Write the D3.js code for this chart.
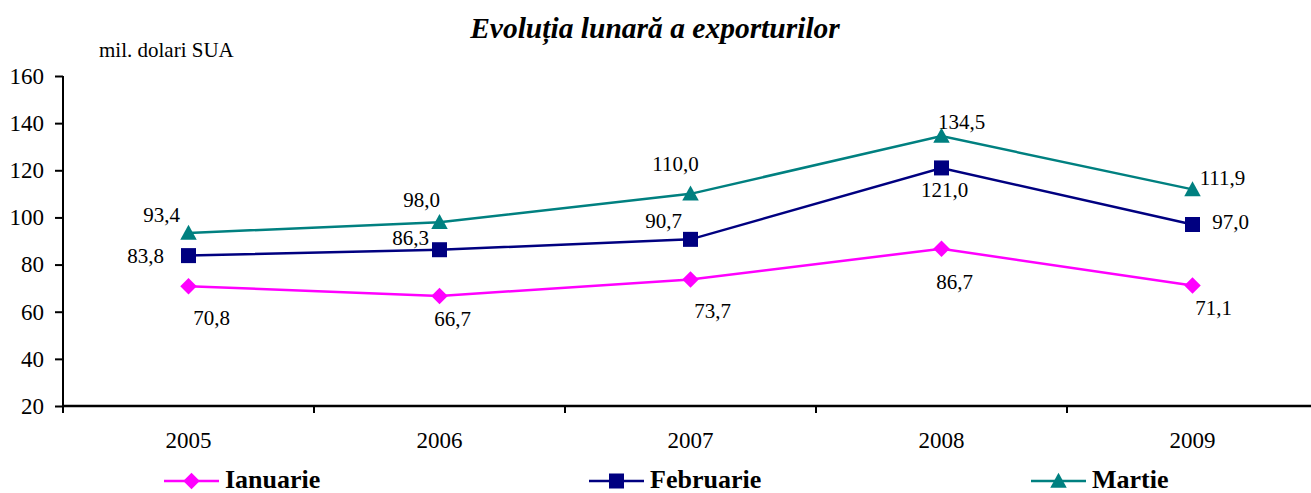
<!DOCTYPE html>
<html><head><meta charset="utf-8">
<script src="https://cdn.jsdelivr.net/npm/d3@7"></script>
<style>body{margin:0;background:#fff;}svg{display:block;}</style>
</head><body><svg id="c" width="1311" height="493"></svg>
<script>
const years = ["2005","2006","2007","2008","2009"];
const seriesNames = ["Ianuarie","Februarie","Martie"];
const ianuarie = [70.8, 66.7, 73.7, 86.7, 71.1];
const februarie = [83.8, 86.3, 90.7, 121.0, 97.0];
const martie = [93.4, 98.0, 110.0, 134.5, 111.9];
const yTicks = [20,40,60,80,100,120,140,160];
const colors = ["#FF00FF","#000080","#008080"];
// label offsets (dx, dy) per series/point - styling only
const labelOffsets = [
  [[23,32],[13,23],[22,32],[13,33],[21,22]],
  [[-43,0],[-29,-12],[-27,-18],[3,22],[38,-3]],
  [[-27,-18],[-18,-22],[-15,-30],[20,-14],[30,-11]]
];
const values = [ianuarie, februarie, martie];
(function(){
const FONT = '"Liberation Serif","Times New Roman",Times,serif';
const svg = d3.select("#c");
const mLeft = 63, mRight = 1318, mTop = 76, mBottom = 406;
const x = d3.scaleBand().domain(years).range([mLeft, mRight]).padding(0);
const y = d3.scaleLinear().domain([20,160]).range([mBottom, mTop]);
const fmt = v => v.toFixed(1).replace(".", ",");

svg.append("text").attr("x", 655).attr("y", 38).attr("text-anchor","middle")
  .style("font-family", FONT).style("font-size","29.5px").style("font-weight","bold").style("font-style","italic")
  .text("Evoluția lunară a exporturilor");
svg.append("text").attr("x", 99).attr("y", 57).style("font-family", FONT).style("font-size","21px").text("mil. dolari SUA");

// y axis
const ya = svg.append("g").attr("transform", `translate(${mLeft},0)`)
  .call(d3.axisLeft(y).tickValues(yTicks).tickSize(8).tickPadding(11).tickFormat(d3.format("d")));
ya.select(".domain").attr("stroke","#000").attr("stroke-width",2).attr("d", `M0,${mTop}V${mBottom}`);
ya.selectAll(".tick line").attr("stroke","#000").attr("stroke-width",2);
ya.selectAll(".tick text").style("font-family", FONT).style("font-size","23px").attr("fill","#000");

// x axis
const xa = svg.append("g").attr("transform", `translate(0,${mBottom})`)
  .call(d3.axisBottom(x).tickSize(0).tickPadding(26));
xa.select(".domain").attr("stroke","#000").attr("stroke-width",2.5).attr("d", `M${mLeft},0H1311`);
xa.selectAll(".tick text").style("font-family", FONT).style("font-size","23px").attr("fill","#000");
const bounds = years.map(d => x(d)).concat([x(years[4]) + x.bandwidth()]);
svg.append("g").selectAll("line").data(bounds).join("line")
  .attr("x1", d => d).attr("x2", d => d).attr("y1", mBottom).attr("y2", mBottom + 7)
  .attr("stroke","#000").attr("stroke-width",2);

const cx = d => x(d) + x.bandwidth()/2;
const line = d3.line().x((v,i) => cx(years[i])).y(v => y(v));

function marker(g, type, color, s) {
  if (type === 0) g.append("path").attr("d", `M0,${-s*0.55}L${s*0.55},0L0,${s*0.55}L${-s*0.55},0Z`).attr("fill", color);
  else if (type === 1) g.append("rect").attr("x",-s/2).attr("y",-s/2).attr("width",s).attr("height",s).attr("fill",color);
  else g.append("path").attr("d", `M0,${-s*0.55}L${s*0.55},${s*0.45}L${-s*0.55},${s*0.45}Z`).attr("fill",color);
}

values.forEach((vals, si) => {
  svg.append("path").datum(vals).attr("d", line).attr("fill","none")
    .attr("stroke", colors[si]).attr("stroke-width", 2.5);
  vals.forEach((v, i) => {
    const g = svg.append("g").attr("transform", `translate(${cx(years[i])},${y(v)})`);
    marker(g, si, colors[si], 15);
    const o = labelOffsets[si][i];
    svg.append("text").attr("x", cx(years[i]) + o[0]).attr("y", y(v) + o[1] + 7)
      .attr("text-anchor","middle")
      .style("font-family", FONT).style("font-size","21px").attr("fill","#000").text(fmt(v));
  });
});

const legX = [164, 589, 1031];
seriesNames.forEach((n, si) => {
  const ly = 481;
  svg.append("line").attr("x1", legX[si]).attr("x2", legX[si] + 55).attr("y1", ly).attr("y2", ly)
    .attr("stroke", colors[si]).attr("stroke-width", 2.5);
  const g = svg.append("g").attr("transform", `translate(${legX[si] + 27.5},${ly})`);
  marker(g, si, colors[si], 15);
  svg.append("text").attr("x", legX[si] + 61).attr("y", ly + 7)
    .style("font-family", FONT).style("font-size","26px").style("font-weight","bold").attr("fill","#000").text(n);
});
})();
</script></body></html>
